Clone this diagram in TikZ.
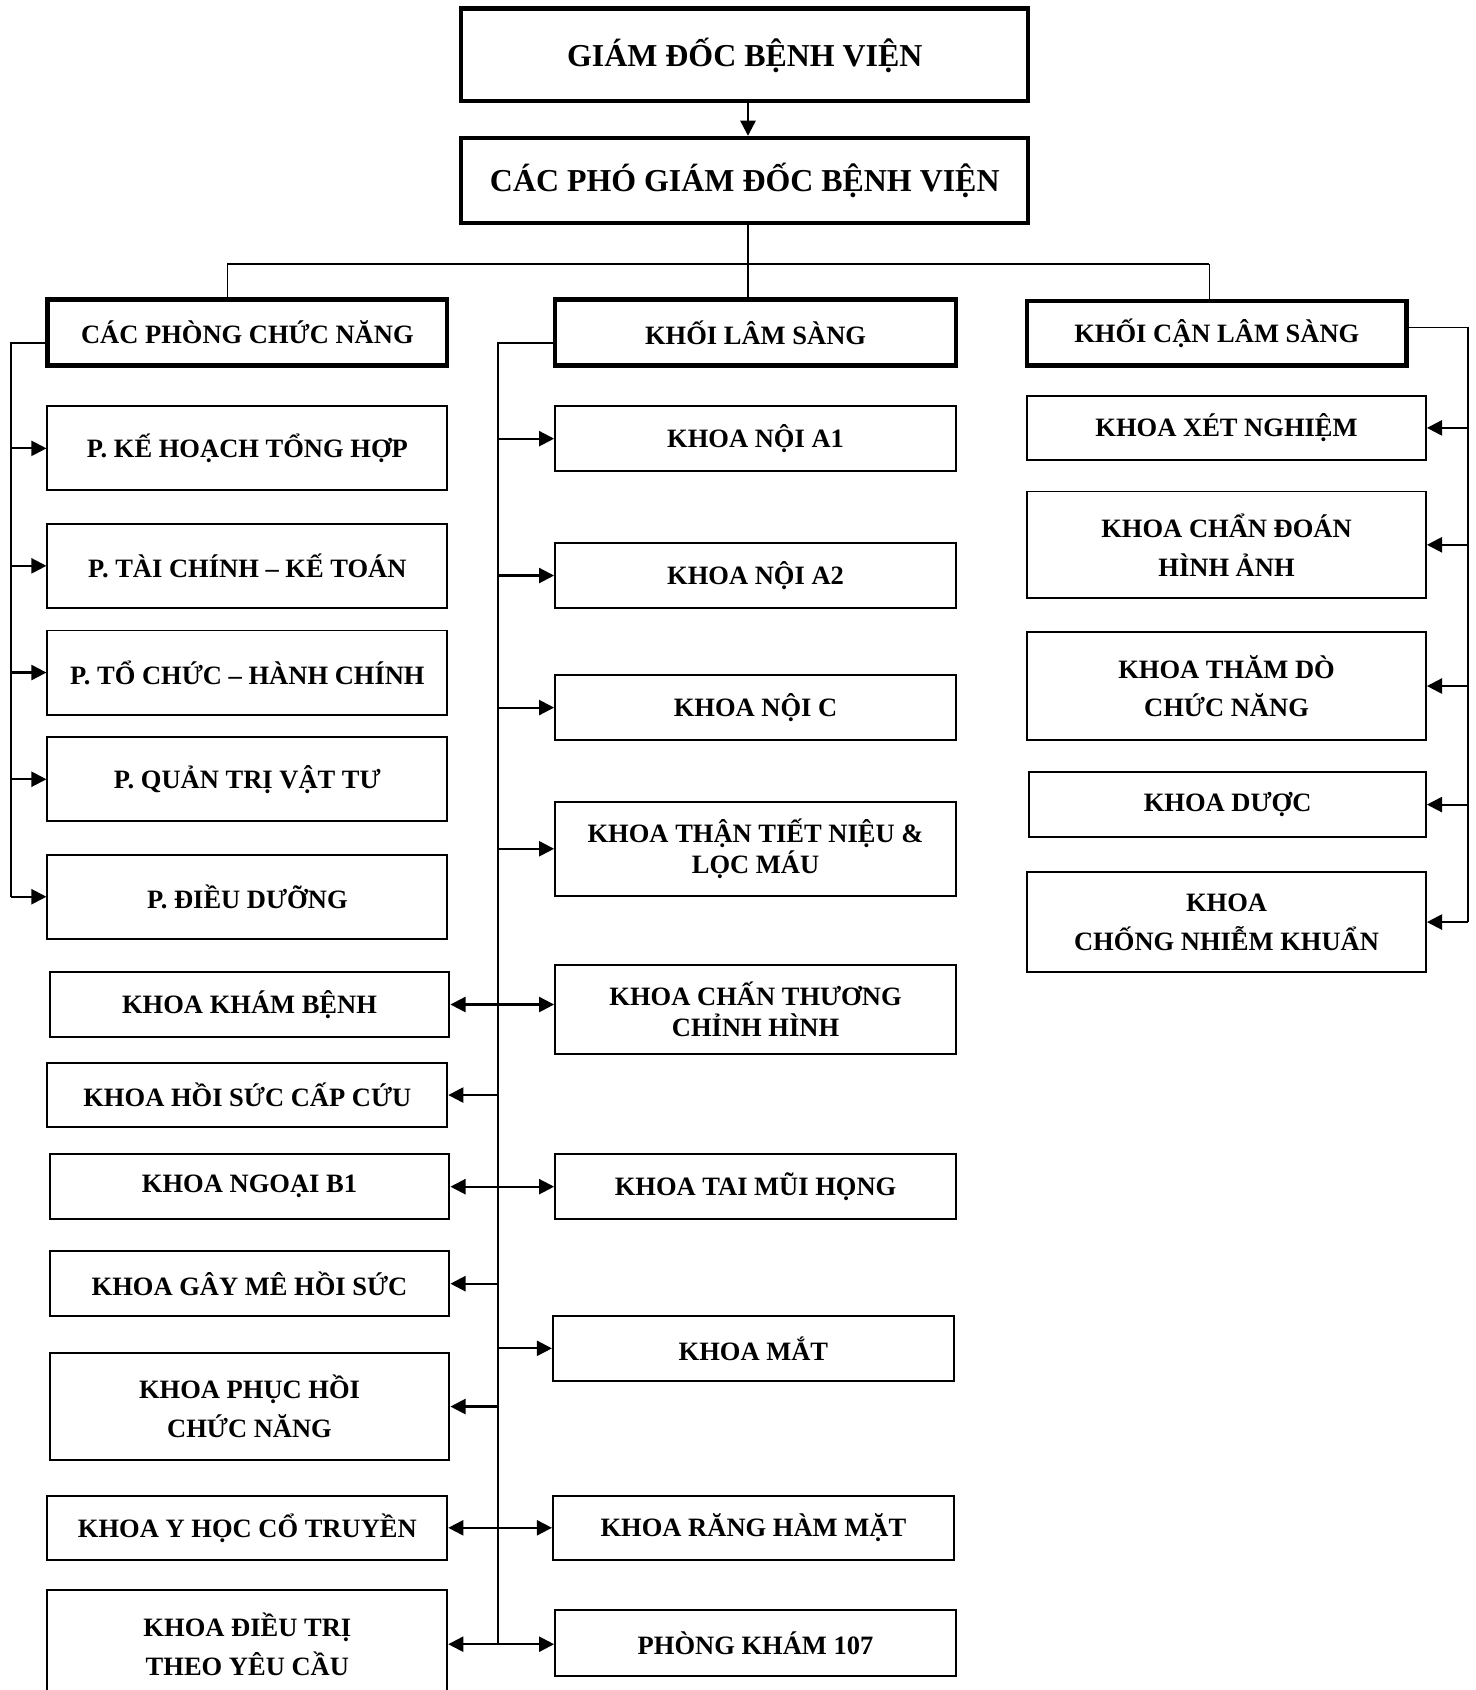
\documentclass[tikz,border=0pt]{standalone}
\usepackage{fontspec}
\setmainfont{Liberation Serif}
\usetikzlibrary{arrows.meta}
\tikzset{hx/.style={draw, line width=2pt, inner sep=0pt, align=center,
  minimum width=186pt, minimum height=30.5pt,
  font=\bfseries\fontsize{12.3}{18}\selectfont}}
\tikzset{bx/.style={draw, line width=0.9pt, inner sep=0pt, align=center,
  minimum width=186pt, minimum height=30pt,
  font=\bfseries\fontsize{12.3}{18}\selectfont}}
\tikzset{big/.style={font=\bfseries\fontsize{14.8}{18}\selectfont}}
\tikzset{tight/.style={font=\bfseries\fontsize{12.3}{14.5}\selectfont}}
\tikzset{ln/.style={draw, line width=0.75pt}}
\tikzset{ar/.style={draw, line width=1pt, -{Triangle[length=7pt,width=7pt]}}}
\tikzset{ar2/.style={draw, line width=1pt,
  {Triangle[length=7pt,width=7pt]}-{Triangle[length=7pt,width=7pt]}}}

\begin{document}
\begin{tikzpicture}[x=0.5pt,y=-0.5pt]
        \useasboundingbox (0,0) rectangle (1369,1568);
        %% top
        \node (gd) at (691,51) [hx,big,minimum width=263pt,minimum height=43pt] {GIÁM ĐỐC BỆNH VIỆN};
        \node (pgd) at (691,167.5) [hx,big,minimum width=263pt,minimum height=39.5pt] {CÁC PHÓ GIÁM ĐỐC BỆNH VIỆN};
        \node (cpcn) at (229.5,308.5) [hx,minimum width=185.5pt] {CÁC PHÒNG CHỨC NĂNG};
        \node (kls) at (701,308.5) [hx] {KHỐI LÂM SÀNG};
        \node (kcls) at (1129,309) [hx,minimum width=176pt,minimum height=30pt] {KHỐI CẬN LÂM SÀNG};
        \coordinate (hl) at (211,245);
        \coordinate (hm) at (694,245);
        \coordinate (hr) at (1122,245);
        \draw [ar] (hm |- gd.south) to (hm |- pgd.north);
        \draw [ln] (hm |- pgd.south) to (hm |- kls.north);
        \draw [ln] (hl) to (hr);
        \draw [ln] (hl) to (hl |- cpcn.north);
        \draw [ln] (hr) to (hr |- kcls.north);
        %% cac phong chuc nang
        \node (p1) at (229.5,416) [bx,minimum width=185.5pt,minimum height=39pt] {P. KẾ HOẠCH TỔNG HỢP};
        \node (p2) at (229.5,525) [bx,minimum width=185.5pt,minimum height=39pt] {P. TÀI CHÍNH – KẾ TOÁN};
        \node (p3) at (229.5,624) [bx,minimum width=185.5pt,minimum height=39pt] {P. TỔ CHỨC – HÀNH CHÍNH};
        \node (p4) at (229.5,723) [bx,minimum width=185.5pt,minimum height=39pt] {P. QUẢN TRỊ VẬT TƯ};
        \node (p5) at (229.5,832) [bx,minimum width=185.5pt,minimum height=39pt] {P. ĐIỀU DƯỠNG};
        \coordinate (lb) at (10,318);
        \draw [ln] (cpcn.west |- lb) to (lb) to (lb |- p5.west);
        \draw [ar] (lb |- p1.west) to (p1.west); \draw [ar] (lb |- p2.west) to (p2.west);
        \draw [ar] (lb |- p3.west) to (p3.west); \draw [ar] (lb |- p4.west) to (p4.west);
        \draw [ar] (lb |- p5.west) to (p5.west);
        %% khoi lam sang, right side
        \node (a1) at (701,407) [bx] {KHOA NỘI A1};
        \node (a2) at (701,534) [bx] {KHOA NỘI A2};
        \node (nc) at (701,656.5) [bx] {KHOA NỘI C};
        \node (tn) at (701,787.5) [bx,tight,minimum height=43.5pt] {KHOA THẬN TIẾT NIỆU \&\\LỌC MÁU};
        \node (ct) at (701,936.5) [bx,tight,minimum height=41.5pt] {KHOA CHẤN THƯƠNG\\CHỈNH HÌNH};
        \node (tmh) at (701,1101) [bx] {KHOA TAI MŨI HỌNG};
        \node (mat) at (699,1251) [bx] {KHOA MẮT};
        \node (rhm) at (699,1417.5) [bx,minimum height=29.5pt] {KHOA RĂNG HÀM MẶT};
        \node (pk) at (701,1524.5) [bx,minimum height=30.5pt] {PHÒNG KHÁM 107};
        %% khoi lam sang, left side
        \node (kb) at (231.5,932) [bx,minimum width=185.5pt] {KHOA KHÁM BỆNH};
        \node (hs) at (229.5,1016) [bx,minimum width=185.5pt] {KHOA HỒI SỨC CẤP CỨU};
        \node (nb) at (231.5,1101) [bx,minimum width=185.5pt] {KHOA NGOẠI B1};
        \node (gm) at (231.5,1191) [bx,minimum width=185.5pt] {KHOA GÂY MÊ HỒI SỨC};
        \node (ph) at (231.5,1305) [bx,minimum width=185.5pt,minimum height=50pt] {KHOA PHỤC HỒI\\CHỨC NĂNG};
        \node (yh) at (229.5,1417.5) [bx,minimum width=185.5pt,minimum height=29.5pt] {KHOA Y HỌC CỔ TRUYỀN};
        \node (dt) at (229.5,1525.5) [bx,minimum width=185.5pt,minimum height=50.5pt] {KHOA ĐIỀU TRỊ\\THEO YÊU CẦU};
        \coordinate (mb) at (462,318);
        \draw [ln] (kls.west |- mb) to (mb) to (mb |- dt.east);
        \draw [ar] (mb |- a1.west) to (a1.west); \draw [ar] (mb |- a2.west) to (a2.west);
        \draw [ar] (mb |- nc.west) to (nc.west); \draw [ar] (mb |- tn.west) to (tn.west);
        \draw [ar] (mb |- mat.west) to (mat.west);
        \draw [ar] (mb |- hs.east) to (hs.east); \draw [ar] (mb |- gm.east) to (gm.east);
        \draw [ar] (mb |- ph.east) to (ph.east);
        \draw [ar2] (kb.east) to (kb.east -| ct.west);
        \draw [ar2] (nb.east) to (nb.east -| tmh.west);
        \draw [ar2] (yh.east) to (yh.east -| rhm.west);
        \draw [ar2] (dt.east) to (dt.east -| pk.west);
        %% khoi can lam sang
        \node (xn) at (1138,397) [bx,minimum width=185pt] {KHOA XÉT NGHIỆM};
        \node (cd) at (1138,505.5) [bx,minimum width=185pt,minimum height=49.5pt] {KHOA CHẨN ĐOÁN\\HÌNH ẢNH};
        \node (td) at (1138,636.5) [bx,minimum width=185pt,minimum height=50.5pt] {KHOA THĂM DÒ\\CHỨC NĂNG};
        \node (du) at (1139,746.5) [bx,minimum width=184pt,minimum height=30.5pt] {KHOA DƯỢC};
        \node (cn) at (1138,855.5) [bx,minimum width=185pt,minimum height=46.5pt] {KHOA\\CHỐNG NHIỄM KHUẨN};
        \coordinate (rb) at (1362,304);
        \draw [ln] (kcls.east |- rb) to (rb) to (rb |- cn.east);
        \draw [ar] (rb |- xn.east) to (xn.east); \draw [ar] (rb |- cd.east) to (cd.east);
        \draw [ar] (rb |- td.east) to (td.east); \draw [ar] (rb |- du.east) to (du.east);
        \draw [ar] (rb |- cn.east) to (cn.east);
\end{tikzpicture}
\end{document}
